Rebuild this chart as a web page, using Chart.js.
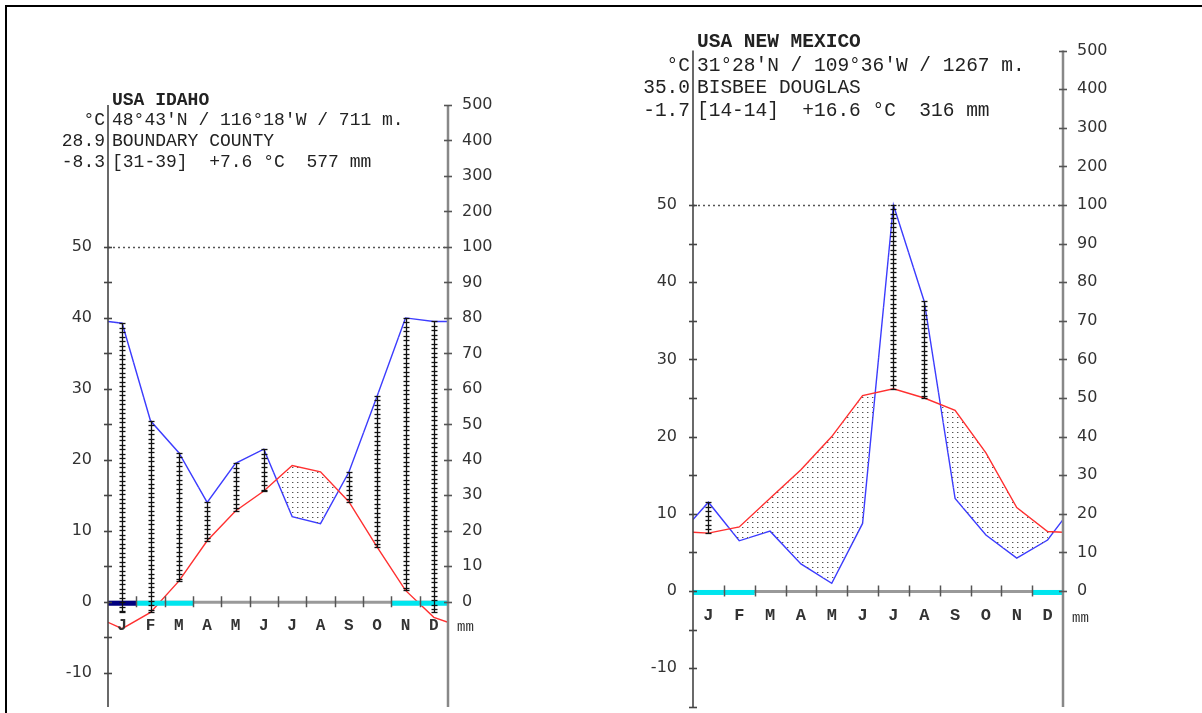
<!DOCTYPE html>
<html>
<head>
<meta charset="utf-8">
<title>Climate diagrams</title>
<script src="https://cdn.jsdelivr.net/npm/chart.js@4.4.0/dist/chart.umd.min.js"></script>
<style>
html, body { margin: 0; padding: 0; background: #fff; }
body { width: 1202px; height: 713px; position: relative; overflow: hidden; }
.frame { position: absolute; left: 5px; top: 5px; width: 1200px; height: 712px; border-top: 2px solid #000; border-left: 2px solid #000; }
canvas { position: absolute; left: 0; top: 0; }
.hd { position: absolute; font-family: "Liberation Mono", monospace; white-space: pre; color: #222; line-height: 1; }
.b { font-weight: bold; }
.r { text-align: right; }
</style>
</head>
<body>
<div class="frame"></div>
<canvas id="idaho" width="1202" height="713"></canvas>
<canvas id="newmexico" width="1202" height="713"></canvas>

<div class="hd b" style="font-size:18px;left:112px;top:91px;">USA IDAHO</div>
<div class="hd r" style="font-size:18px;right:1097px;top:111px;">°C</div>
<div class="hd" style="font-size:18px;left:112px;top:111px;">48°43'N / 116°18'W / 711 m.</div>
<div class="hd r" style="font-size:18px;right:1097px;top:132px;">28.9</div>
<div class="hd" style="font-size:18px;left:112px;top:132px;">BOUNDARY COUNTY</div>
<div class="hd r" style="font-size:18px;right:1097px;top:153px;">-8.3</div>
<div class="hd" style="font-size:18px;left:112px;top:153px;">[31-39]  +7.6 °C  577 mm</div>

<div class="hd b" style="font-size:19.5px;left:697px;top:33px;">USA NEW MEXICO</div>
<div class="hd r" style="font-size:19.5px;right:512px;top:57px;">°C</div>
<div class="hd" style="font-size:19.5px;left:697px;top:57px;">31°28'N / 109°36'W / 1267 m.</div>
<div class="hd r" style="font-size:19.5px;right:512px;top:79px;">35.0</div>
<div class="hd" style="font-size:19.5px;left:697px;top:79px;">BISBEE DOUGLAS</div>
<div class="hd r" style="font-size:19.5px;right:512px;top:102px;">-1.7</div>
<div class="hd" style="font-size:19.5px;left:697px;top:102px;">[14-14]  +16.6 °C  316 mm</div>

<script>
const months = ["J", "F", "M", "A", "M", "J", "J", "A", "S", "O", "N", "D"];

// Boundary County, Idaho
const idahoTemp = [-3.8, -1.5, 2.9, 8.6, 12.8, 15.6, 19.2, 18.3, 14.1, 7.7, 1.6, -2.2];
const idahoPrecip = [78.5, 51, 42, 28, 39, 43, 24, 22, 36.5, 58, 80, 79];
const idahoTempEdge = -2.9;
const idahoPrecipEdge = 79;
const idahoFrost = [2, 1, 1, 0, 0, 0, 0, 0, 0, 0, 1, 1];

// Bisbee Douglas, New Mexico
const nmTemp = [7.5, 8.3, 12.0, 15.7, 20.0, 25.3, 26.2, 25.0, 23.4, 17.9, 10.8, 7.7];
const nmPrecip = [23, 13, 15.5, 7, 2, 17.5, 100, 75, 24, 14.5, 8.5, 13.2];
const nmTempEdge = 7.6;
const nmPrecipEdge = 18.5;
const nmFrost = [1, 1, 0, 0, 0, 0, 0, 0, 0, 0, 0, 1];

const leftTicks = [-15, -10, -5, 0, 5, 10, 15, 20, 25, 30, 35, 40, 45, 50];
const rightTicks = [0, 5, 10, 15, 20, 25, 30, 35, 40, 45, 50, 55, 60, 65, 70];

// precipitation scale: 10 mm = 5 °C up to 100 mm, then 100 mm = 5 °C
function mmToC(mm) {
  return mm <= 100 ? mm / 2 : 50 + (mm - 100) / 20;
}
function cToMm(c) {
  return c <= 50 ? c * 2 : 100 + (c - 50) * 20;
}

function dotPattern() {
  const c = document.createElement("canvas");
  c.width = 5;
  c.height = 5;
  const g = c.getContext("2d");
  g.fillStyle = "#555";
  g.fillRect(2, 2, 1, 1);
  g.fillStyle = "#bbb";
  g.fillRect(3, 2, 1, 1);
  return g.createPattern(c, "repeat");
}

function seg(ctx, x0, y0, x1, y1) {
  ctx.beginPath();
  ctx.moveTo(x0, y0);
  ctx.lineTo(x1, y1);
  ctx.stroke();
}

function walterPlugin(d) {
  return {
    id: "walter",
    afterDatasetsDraw(chart) {
      const { ctx, chartArea: a, scales } = chart;
      const x = scales.x, y = scales.y;
      const zeroY = y.getPixelForValue(0);
      ctx.save();

      // 100 mm line
      ctx.strokeStyle = "#555";
      ctx.lineWidth = 1.5;
      ctx.setLineDash([2, 3]);
      const y50 = Math.round(y.getPixelForValue(50)) + 0.5;
      seg(ctx, a.left, y50, a.right, y50);
      ctx.setLineDash([]);

      // zero line
      ctx.strokeStyle = "#999";
      ctx.lineWidth = 3;
      seg(ctx, a.left, zeroY + 0.5, a.right, zeroY + 0.5);

      // frost months
      d.frost.forEach((f, i) => {
        if (!f) return;
        const x0 = x.getPixelForValue(i), x1 = x.getPixelForValue(i + 1);
        ctx.fillStyle = f === 2 ? "#000080" : "#00e5ee";
        ctx.fillRect(x0, zeroY - 1, x1 - x0, 5);
      });

      // month boundaries
      ctx.strokeStyle = "#555";
      ctx.lineWidth = 1.5;
      for (let i = 1; i < 12; i++) {
        const px = Math.round(x.getPixelForValue(i)) + 0.5;
        seg(ctx, px, zeroY - 5.5, px, zeroY + 5.5);
      }

      // month letters
      ctx.fillStyle = "#333";
      ctx.font = "bold " + d.letterSize + "px 'Liberation Mono'";
      ctx.textAlign = "center";
      ctx.textBaseline = "middle";
      months.forEach((m, i) => {
        ctx.fillText(m, x.getPixelForValue(i + 0.5), zeroY + d.letterDy);
      });
      ctx.font = "14px 'Liberation Mono'";
      ctx.textAlign = "left";
      ctx.fillText("mm", a.right + 9, zeroY + d.letterDy + 2);

      // humid months
      ctx.strokeStyle = "#111";
      ctx.lineWidth = 1.3;
      d.temp.forEach((t, i) => {
        const p = mmToC(d.precip[i]);
        if (p <= t) return;
        const px = Math.round(x.getPixelForValue(i + 0.5)) + 0.5;
        const top = y.getPixelForValue(p);
        const bot = y.getPixelForValue(Math.max(t, -1.5));
        seg(ctx, px, top, px, bot);
        for (let yy = top; yy <= bot + 0.1; yy += 4.5) {
          seg(ctx, px - 3, Math.round(yy) + 0.5, px + 3, Math.round(yy) + 0.5);
        }
        seg(ctx, px - 3, Math.round(bot) + 0.5, px + 3, Math.round(bot) + 0.5);
      });

      // axes
      ctx.strokeStyle = "#444";
      ctx.lineWidth = 1.6;
      seg(ctx, a.left, a.top, a.left, a.bottom);
      leftTicks.forEach(v => {
        if (v < y.min || v > y.max) return;
        const py = Math.round(y.getPixelForValue(v)) + 0.5;
        seg(ctx, a.left - 4, py, a.left + 4, py);
      });
      ctx.strokeStyle = "#888";
      ctx.lineWidth = 2.5;
      seg(ctx, a.right, a.top, a.right, a.bottom);
      ctx.lineWidth = 1.6;
      ctx.strokeStyle = "#555";
      rightTicks.forEach(v => {
        const py = Math.round(y.getPixelForValue(v)) + 0.5;
        seg(ctx, a.right - 4, py, a.right + 4, py);
      });
      ctx.restore();
    }
  };
}

function fixedWidth(s) {
  s.width = 60;
  s.paddingTop = 0;
  s.paddingBottom = 0;
}

function drawDiagram(id, d) {
  const points = (vals, edge) =>
    [{ x: 0, y: edge }].concat(vals.map((v, i) => ({ x: i + 0.5, y: v })), [{ x: 12, y: edge }]);
  const tickFont = { family: "DejaVu Sans", size: 16 };
  new Chart(document.getElementById(id), {
    type: "line",
    data: {
      datasets: [
        {
          label: "Temperature",
          data: points(d.temp, d.tempEdge),
          borderColor: "#ff3030",
          borderWidth: 1.4,
          pointRadius: 0,
          tension: 0,
          fill: { target: 1, above: dotPattern(), below: "rgba(0,0,0,0)" }
        },
        {
          label: "Precipitation",
          data: points(d.precip.map(mmToC), mmToC(d.precipEdge)),
          borderColor: "#3c3cff",
          borderWidth: 1.4,
          pointRadius: 0,
          tension: 0,
          fill: false
        }
      ]
    },
    options: {
      responsive: false,
      animation: false,
      events: [],
      layout: {
        padding: {
          left: d.area.left - 60,
          right: 1202 - d.area.right - 60,
          top: d.area.top,
          bottom: 713 - d.area.bottom
        }
      },
      plugins: { legend: { display: false }, tooltip: { enabled: false } },
      scales: {
        x: { type: "linear", min: 0, max: 12, display: false },
        y: {
          position: "left",
          min: d.yMin,
          max: 70,
          grid: { display: false },
          border: { display: false },
          afterFit: fixedWidth,
          afterBuildTicks: s => { s.ticks = leftTicks.filter(v => v >= s.min && v <= s.max).map(v => ({ value: v })); },
          ticks: {
            autoSkip: false,
            padding: 8,
            color: "#333",
            font: tickFont,
            callback: v => (v % 10 === 0 ? String(v) : "")
          }
        },
        y2: {
          position: "right",
          min: d.yMin,
          max: 70,
          grid: { display: false },
          border: { display: false },
          afterFit: fixedWidth,
          afterBuildTicks: s => { s.ticks = rightTicks.map(v => ({ value: v })); },
          ticks: {
            autoSkip: false,
            padding: 6,
            color: "#333",
            font: tickFont,
            callback: v => String(Math.round(cToMm(v)))
          }
        }
      }
    },
    plugins: [walterPlugin(d)]
  });
}

drawDiagram("idaho", {
  temp: idahoTemp, precip: idahoPrecip, tempEdge: idahoTempEdge, precipEdge: idahoPrecipEdge,
  frost: idahoFrost, area: { left: 108, right: 448, top: 105, bottom: 707 }, yMin: -14.83,
  letterSize: 16, letterDy: 24
});
drawDiagram("newmexico", {
  temp: nmTemp, precip: nmPrecip, tempEdge: nmTempEdge, precipEdge: nmPrecipEdge,
  frost: nmFrost, area: { left: 693, right: 1063, top: 50.6, bottom: 707 }, yMin: -15.03,
  letterSize: 17, letterDy: 25
});
</script>
</body>
</html>
